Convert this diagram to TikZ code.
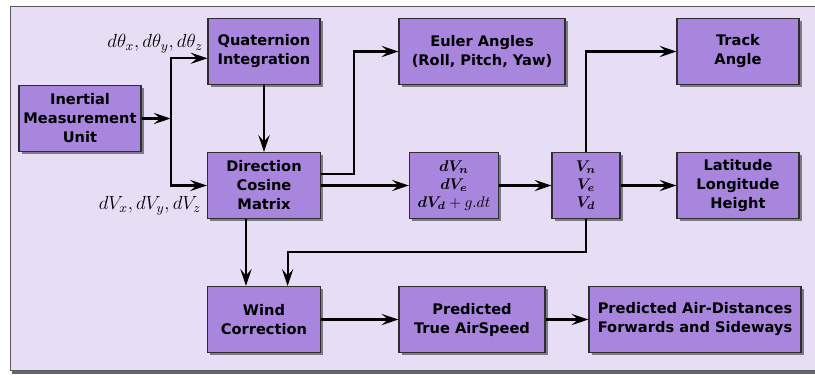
\documentclass[tikz,border=0pt]{standalone}
\usepackage{fix-cm}
\usepackage[no-math]{fontspec}
\usepackage{bm}
\usetikzlibrary{arrows.meta, positioning, shadows}

\newfontfamily\blockfont{DejaVu Sans}
\definecolor{blockfill}{HTML}{A886DE}
\definecolor{backfill}{HTML}{E7DEF5}
\definecolor{blockline}{HTML}{2E2E2E}

\begin{document}
\begin{tikzpicture}[
        node distance = 4cm, on grid,
        >= {Stealth[length = 4.2mm, width = 2.8mm, inset = 1.6mm]},
        block/.style = {draw = blockline, thick, fill = blockfill,
            minimum height = 1.65cm, inner sep = 1pt, align = center,
            font = \blockfont\bfseries\fontsize{10.4}{13.5}\selectfont,
            drop shadow = {shadow xshift = 0.7mm, shadow yshift = -0.7mm,
                opacity = 0.45, fill = black}},
        flow/.style = {->, line width = 1.5pt},
        sig/.style = {inner sep = 0pt, font = \fontsize{13.5}{16}\selectfont}
    ]
      \useasboundingbox (0,0) rectangle (20.375,-9.425);
      \draw[draw = gray!70!black, fill = backfill,
            drop shadow = {shadow xshift = 0.6mm, shadow yshift = -0.9mm,
                opacity = 0.6, fill = black}]
            (0.25,-0.15) rectangle (20.6,-9.25);

      % top row
      \node[block, minimum width = 2.8cm] (quat) at (6.6,-1.2875) {Quaternion\\Integration};
      \node[block, minimum width = 4.15cm] (euler) [right = 5.45cm of quat] {Euler Angles\\(Roll, Pitch, Yaw)};
      \node[block, minimum width = 3.05cm] (track) [right = 6.4cm of euler] {Track\\Angle};

      % middle row
      \node[block, minimum width = 3.05cm] (imu) [below left = 1.675cm and 4.6cm of quat] {Inertial\\Measurement\\Unit};
      \node[block, minimum width = 2.83cm] (dcm) [below = 3.35cm of quat] {Direction\\Cosine\\Matrix};
      \node[block, minimum width = 2.23cm, font = \fontsize{11}{12.8}\selectfont] (dv) [right = 4.75cm of dcm]
            {$\bm{dV_n}$\\$\bm{dV_e}$\\$\bm{dV_d} + g.dt$};
      \node[block, minimum width = 1.7cm, font = \fontsize{11}{12.8}\selectfont] (vel) [right = 3.3cm of dv]
            {$\bm{V_n}$\\$\bm{V_e}$\\$\bm{V_d}$};
      \node[block, minimum width = 3.05cm] (lat) [below = 3.35cm of track] {Latitude\\Longitude\\Height};

      % bottom row
      \node[block, minimum width = 2.83cm] (wind) [below = 3.35cm of dcm] {Wind\\Correction};
      \node[block, minimum width = 3.65cm] (tas) [right = 5.2cm of wind] {Predicted\\True AirSpeed};
      \node[block, minimum width = 5.3cm] (dist) [right = 5.575cm of tas] {Predicted Air-Distances\\Forwards and Sideways};

      \coordinate[right = 0.725cm of imu.east] (split);

      \node[sig, anchor = south east] (gyro) at ([xshift = -3pt, yshift = -1pt]quat.west)
            {$d\theta_x, d\theta_y, d\theta_z$};
      \node[sig, anchor = north east] (accel) at ([xshift = -4pt, yshift = -0.26cm]dcm.west)
            {$dV_x, dV_y, dV_z$};

      \draw[flow] (imu) -- (split);
      \draw[flow] (split) |- ([yshift = -0.17cm]quat.west);
      \draw[flow] (split) |- (dcm.west);
      \draw[flow] (quat) -- (dcm);
      \draw[flow] ([yshift = 0.29cm]dcm.east) -- ++(0.83,0) |- (euler.west);
      \draw[flow] (dcm) -- (dv);
      \draw[flow] (dv) -- (vel);
      \draw[flow] (vel) -- (lat);
      \draw[flow] (vel.north) |- (track.west);
      \draw[flow] (vel.south) -- ++(0,-0.83) -| ([xshift = 0.59cm]wind.north);
      \draw[flow] ([xshift = -0.45cm]dcm.south) -- ([xshift = -0.45cm]wind.north);
      \draw[flow] (wind) -- (tas);
      \draw[flow] (tas) -- (dist);
    \end{tikzpicture}
\end{document}
